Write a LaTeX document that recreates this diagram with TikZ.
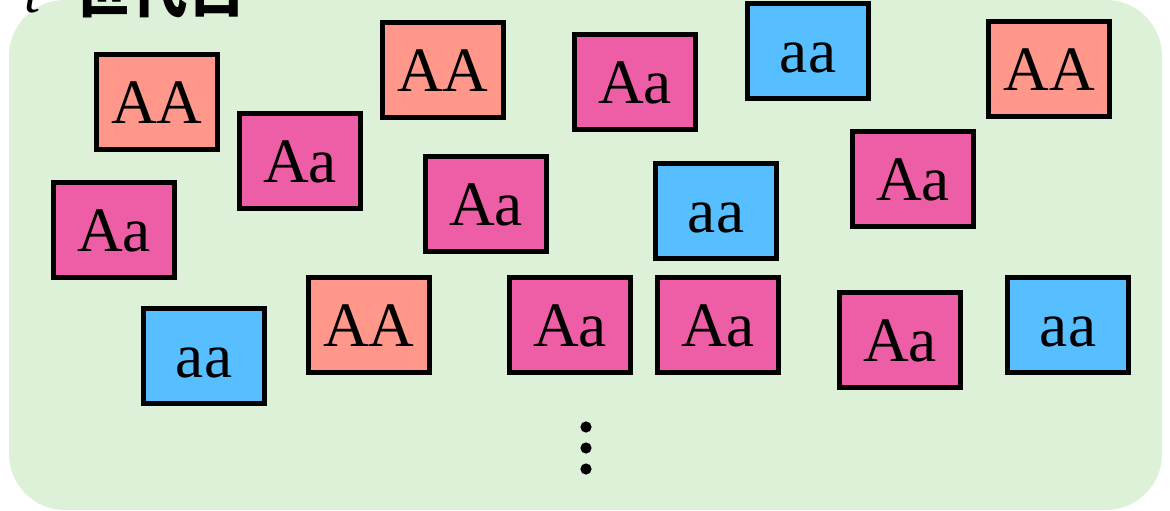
\documentclass[tikz,border=0pt]{standalone}
\usepackage{fontspec}
\setmainfont{Liberation Serif}
\newfontfamily\jpfont{Noto Sans CJK JP}
\usepackage{tikz}

\definecolor{bggreen}{HTML}{DCF1D8}
\definecolor{homocol}{HTML}{FF978A}
\definecolor{heterocol}{HTML}{EE5EA6}
\definecolor{recescol}{HTML}{57BFFF}

\tikzset{
  geno/.style={draw=black, line width=0.125cm, minimum width=3.0cm, minimum height=2.35cm,
    inner sep=0pt, font=\fontsize{45}{45}\selectfont, text height=30pt, text depth=0pt},
  homo/.style={geno, fill=homocol},
  hetero/.style={geno, fill=heterocol},
  reces/.style={geno, fill=recescol}
}

\begin{document}
\begin{tikzpicture}[x=0.025cm, y=-0.025cm]

\clip (0,0) rectangle (1170,511);

% background
\fill[bggreen, rounded corners=1.4cm] (9,0) rectangle (1162,510);

% title (cut at the top)
\node[anchor=base west, inner sep=0pt, font=\fontsize{41}{41}\selectfont] (title) at (24,13)
  {\textit{t}\hspace{0.55em}{\jpfont\bfseries 世代目}};

% first row
\node[homo]   (AA1) at (157,102) {AA};
\node[hetero] (Aa1) at (300,161) {Aa};
\node[homo]   (AA2) at (443,70)  {AA};
\node[hetero] (Aa2) at (635,82)  {Aa};
\node[reces]  (aa1) at (808,51)  {aa};
\node[homo]   (AA3) at (1049,69) {AA};

% second row
\node[hetero] (Aa3) at (114,230) {Aa};
\node[hetero] (Aa4) at (486,204) {Aa};
\node[reces]  (aa2) at (716,211) {aa};
\node[hetero] (Aa5) at (913,179) {Aa};

% third row
\node[reces]  (aa3) at (204,356)  {aa};
\node[homo]   (AA4) at (369,325)  {AA};
\node[hetero] (Aa6) at (570,325)  {Aa};
\node[hetero] (Aa7) at (718,325)  {Aa};
\node[hetero] (Aa8) at (900,340)  {Aa};
\node[reces]  (aa4) at (1068,325) {aa};

% dots
\fill (586,427) circle (0.14cm);
\fill (586,448) circle (0.14cm);
\fill (586,469) circle (0.14cm);

\end{tikzpicture}
\end{document}
